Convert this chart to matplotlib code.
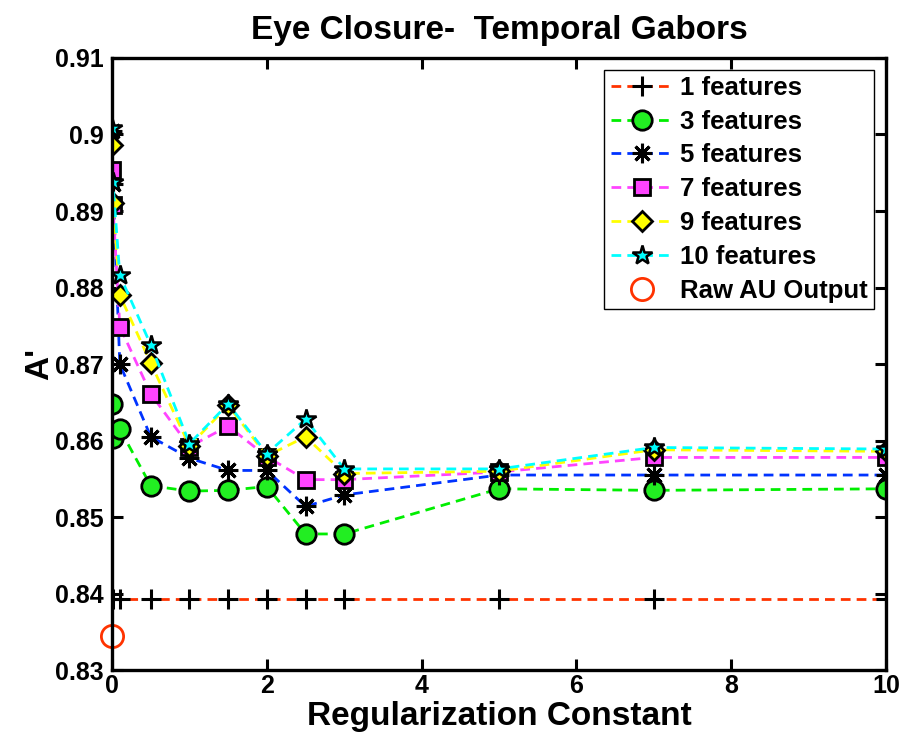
import numpy as np
import matplotlib
matplotlib.use('Agg')
import matplotlib.pyplot as plt

plt.rcParams['font.family'] = ['Liberation Sans', 'DejaVu Sans']
plt.rcParams['font.weight'] = 'bold'

# regularization constants (first two are tiny values near zero)
reg = [0.001, 0.01, 0.1, 0.5, 1, 1.5, 2, 2.5, 3, 5, 7, 10]

f1 = [0.8393, 0.8393, 0.8393, 0.8393, 0.8393, 0.8393, 0.8393, 0.8393, 0.8393, 0.8393, 0.8393, 0.8393]
f3 = [0.8648, 0.8603, 0.8615, 0.8541, 0.8534, 0.8535, 0.8540, 0.8478, 0.8478, 0.8537, 0.8535, 0.8537]
f5 = [0.9005, 0.8935, 0.8700, 0.8605, 0.8577, 0.8561, 0.8561, 0.8514, 0.8529, 0.8555, 0.8555, 0.8555]
f7 = [0.8953, 0.8908, 0.8749, 0.8661, 0.8592, 0.8619, 0.8579, 0.8549, 0.8549, 0.8559, 0.8578, 0.8578]
f9 = [0.8986, 0.8910, 0.8790, 0.8701, 0.8593, 0.8646, 0.8580, 0.8605, 0.8557, 0.8560, 0.8588, 0.8586]
f10 = [0.9008, 0.8938, 0.8816, 0.8725, 0.8596, 0.8648, 0.8583, 0.8628, 0.8563, 0.8563, 0.8591, 0.8589]

raw_x = [0]
raw_au = [0.8345]

fig = plt.figure(figsize=(9.04, 7.43), dpi=100)
ax = fig.add_axes([0.124, 0.098, 0.856, 0.824])

lw = 2.0
dash = (3.5, 2.2)
asterisk = (8, 2, 0)
ax.plot(reg, f1, '--', dashes=dash, color='#ff3300', lw=lw, marker='+', ms=15, mew=2.2,
        mec='k', label='1 features')
ax.plot(reg, f3, '--', dashes=dash, color='#00ee00', lw=lw, marker='o', ms=14, mew=2,
        mfc='#22ee22', mec='k', label='3 features')
ax.plot(reg, f5, '--', dashes=dash, color='#0033ff', lw=lw, marker=asterisk, ms=14, mew=2.2,
        mfc='k', mec='k', label='5 features')
ax.plot(reg, f7, '--', dashes=dash, color='#ff44ff', lw=lw, marker='s', ms=12, mew=2,
        mfc='#ff44ff', mec='k', label='7 features')
ax.plot(reg, f9, '--', dashes=dash, color='#ffff00', lw=lw, marker='D', ms=10, mew=2,
        mfc='#ffff00', mec='k', label='9 features')
ax.plot(reg, f10, '--', dashes=dash, color='#00ffff', lw=lw, marker='*', ms=15, mew=1.8,
        mfc='#00ffff', mec='k', label='10 features')
ax.plot(raw_x, raw_au, 'o', ms=16, mfc='none', mec='#ff3300', mew=2,
        label='Raw AU Output', clip_on=False)

ax.set_xlim(0, 10)
ax.set_ylim(0.83, 0.91)
ax.set_xticks([0, 2, 4, 6, 8, 10])
ax.set_yticks(np.arange(0.83, 0.9101, 0.01))
ax.set_yticklabels(['0.83', '0.84', '0.85', '0.86', '0.87', '0.88', '0.89', '0.9', '0.91'])
ax.tick_params(direction='in', length=8, width=2.2, labelsize=18,
               top=True, right=True)
ax.tick_params(axis='x', pad=3)
ax.tick_params(axis='y', pad=6)
for s in ax.spines.values():
    s.set_linewidth(2.4)

ax.set_title('Eye Closure-  Temporal Gabors', fontsize=24, fontweight='bold', pad=14)
ax.set_xlabel('Regularization Constant', fontsize=24, fontweight='bold', labelpad=2)
ax.set_ylabel("A'", fontsize=24, fontweight='bold', labelpad=0)

leg = ax.legend(loc='upper right', fontsize=18.5, handlelength=2.4, handletextpad=0.3,
                labelspacing=0.38, borderaxespad=0.45, fancybox=False, framealpha=1,
                borderpad=0.25)
leg.get_frame().set_edgecolor('k')
leg.get_frame().set_linewidth(1.0)

plt.savefig('out.png', dpi=100)
